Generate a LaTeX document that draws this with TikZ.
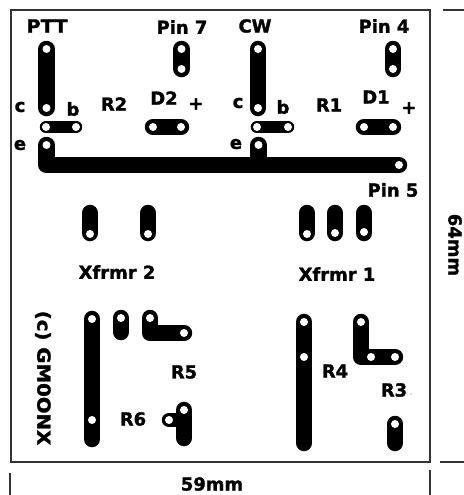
\documentclass[tikz,border=0pt]{standalone}
\usepackage{fontspec}
\setmainfont{DejaVu Sans}[BoldFeatures={FakeBold=1.6}]
\usepackage{xcolor}
\tikzset{
    trace/.style={line width=0.33cm,line cap=round,line join=round},
    thintrace/.style={line width=0.25cm,line cap=round},
    stub/.style={line width=0.29cm,line cap=round},
    frameline/.style={line width=0.7pt,color=black!80},
    lbl/.style={inner sep=0pt,font=\fontsize{10.2}{12}\selectfont\bfseries},
}
\begin{document}
\begin{tikzpicture}[x=0.02cm,y=-0.02cm]
        \useasboundingbox (0,0) rectangle (464,495);
        % Board outline and the dimension ticks
        \draw[frameline] (11,10) rectangle (430,462);
        \draw[frameline] (443,10) -- (464,10);
        \draw[frameline] (440,462) -- (464,462);
        \draw[frameline] (10,473) -- (10,495);
        \draw[frameline] (430,470) -- (430,495);
        % Upper traces, PTT side and CW side
        \foreach \x/\xp in {46.5/181.5,258/393} {
            \draw[trace] (\x,49) -- (\x,108);
            \draw[trace] (\xp,49) -- (\xp,69);
        }
        \draw[thintrace] (46,127) -- (76,127);
        \draw[thintrace] (257,127) -- (288,127);
        \draw[trace] (153,127) -- (181,127);
        \draw[trace] (364,127) -- (393,127);
        % Common emitter rail
        \draw[trace] (46.5,145) -- (46.5,165) -- (399,165);
        \draw[trace] (258.5,145) -- (258.5,158);
        % Transformer pads
        \foreach \x in {90,148,307,335,364} {
            \draw[trace] (\x,213) -- (\x,233);
        }
        % Lower traces
        \draw[trace] (92,319) -- (92,439);
        \draw[trace] (121,318) -- (121,332);
        \draw[trace] (150,318) -- (150,333) -- (184,333);
        \draw[trace] (184,410) -- (184,438);
        \draw[stub] (169,420) -- (184,420);
        \draw[trace] (304,322) -- (304,443);
        \draw[trace] (361,322) -- (361,357) -- (395,357);
        \draw[trace] (395,424) -- (395,443);
        % Drill holes
        \foreach \x/\y in {46.5/49,46.5/108,46/127,76/127,181.5/49,181.5/69,153/127,181/127,46.5/145,
                           258/49,258/108,257/127,288/127,258.5/145,393/49,393/69,364/127,393/127,399/165,
                           90/234,148/234,307/234,335/233,364/232,
                           92/319,92/420,121/318,150/318,184/333,169/420,184/410,
                           304/322,304/357,361/322,371/357,395/357,395/424} {
            \fill[white] (\x,\y) circle (4);
        }
        % Labels
        \node[lbl,xscale=1.08] (ptt) at (47,26) {PTT};
        \node[lbl] (pinseven) at (182,27) {Pin 7};
        \node[lbl] (cw) at (255,26) {CW};
        \node[lbl] (pinfour) at (384,26) {Pin 4};
        \node[lbl] (pinfive) at (393,190) {Pin 5};
        \node[lbl] (rtwo) at (114,104) {R2};
        \node[lbl] (dtwo) at (164,98) {D2};
        \node[lbl] (plustwo) at (196,104) {+};
        \node[lbl] (rone) at (329,105) {R1};
        \node[lbl] (done) at (376,97) {D1};
        \node[lbl] (plusone) at (409,108) {+};
        \node[lbl] (cleft) at (20,107) {c};
        \node[lbl] (bleft) at (73,109) {b};
        \node[lbl] (eleft) at (20,145) {e};
        \node[lbl] (cright) at (238,103) {c};
        \node[lbl] (bright) at (283,107) {b};
        \node[lbl] (eright) at (236,144) {e};
        \node[lbl] (xfrmrtwo) at (117,272) {Xfrmr 2};
        \node[lbl] (xfrmrone) at (337,274) {Xfrmr 1};
        \node[lbl,rotate=-90,xscale=1.1] (call) at (43,378) {(c) GM0ONX};
        \node[lbl] (rfive) at (184,372) {R5};
        \node[lbl] (rsix) at (133,419) {R6};
        \node[lbl] (rfour) at (335,371) {R4};
        \node[lbl] (rthree) at (394,390) {R3};
        \fill[black!60] (411,394) circle (0.7);
        \node[lbl] (width) at (212,484) {59mm};
        \node[lbl,rotate=-90] (height) at (455,245) {64mm};
\end{tikzpicture}
\end{document}
